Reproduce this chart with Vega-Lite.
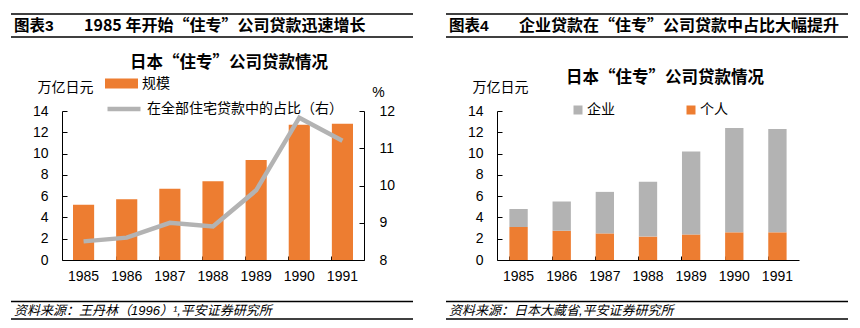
{
  "$schema": "https://vega.github.io/schema/vega-lite/v6.json",
  "background": "white",
  "padding": {"left": 10, "top": 13, "right": 13, "bottom": 10},
  "config": {
    "view": {"stroke": null},
    "font": "Liberation Sans, Noto Sans CJK SC",
    "text": {"font": "Liberation Sans, Noto Sans CJK SC", "color": "black"},
    "mark": {"clip": false},
    "axis": {
      "labelFont": "Liberation Sans",
      "labelFontSize": 14,
      "labelColor": "black",
      "domainColor": "black",
      "tickColor": "black",
      "grid": false,
      "titleFont": "Noto Sans CJK SC",
      "titleFontWeight": "normal",
      "titleFontSize": 14,
      "titleColor": "black"
    },
    "legend": {
      "labelFont": "Noto Sans CJK SC",
      "labelFontSize": 14,
      "labelColor": "black",
      "labelLimit": 0,
      "padding": 0,
      "titlePadding": 0
    }
  },
  "columns": 2,
  "spacing": {"row": 0, "column": 133},
  "bounds": "flush",
  "concat": [
    {
      "width": 302,
      "height": 97,
      "data": {"values": [{"label": "图表3", "title": "1985 年开始“住专”公司贷款迅速增长", "chart": "日本“住专”公司贷款情况"}]},
      "layer": [
        {"mark": {"type": "rule", "strokeWidth": 1.5, "color": "black"},
         "encoding": {"x": {"datum": -51, "type": "quantitative", "scale": {"domain": [0, 302], "nice": false, "zero": false}, "axis": null},
                      "x2": {"datum": 351},
                      "y": {"datum": 0, "type": "quantitative", "scale": {"domain": [0, 97], "reverse": true, "nice": false}, "axis": null}}},
        {"mark": {"type": "rule", "strokeWidth": 1.5, "color": "black"},
         "encoding": {"x": {"datum": -51, "type": "quantitative"}, "x2": {"datum": 351},
                      "y": {"datum": 23, "type": "quantitative"}}},
        {"mark": {"type": "text", "align": "left", "baseline": "middle", "fontSize": 15.5, "fontWeight": "bold"},
         "encoding": {"x": {"datum": -48, "type": "quantitative"},
                      "y": {"datum": 12, "type": "quantitative"},
                      "text": {"field": "label"}}},
        {"mark": {"type": "text", "align": "left", "baseline": "middle", "fontSize": 16, "fontWeight": "bold", "font": "Noto Sans CJK SC"},
         "encoding": {"x": {"datum": 22, "type": "quantitative"},
                      "y": {"datum": 12, "type": "quantitative"},
                      "text": {"field": "title"}}},
        {"mark": {"type": "text", "align": "center", "baseline": "middle", "fontSize": 16.5, "fontWeight": "bold", "font": "Noto Sans CJK SC"},
         "encoding": {"x": {"datum": 167, "type": "quantitative"},
                      "y": {"datum": 49, "type": "quantitative"},
                      "text": {"field": "chart"}}}
      ]
    },
    {
      "width": 302,
      "height": 97,
      "data": {"values": [{"label": "图表4", "title": "企业贷款在“住专”公司贷款中占比大幅提升", "chart": "日本“住专”公司贷款情况"}]},
      "layer": [
        {"mark": {"type": "rule", "strokeWidth": 1.5, "color": "black"},
         "encoding": {"x": {"datum": -51, "type": "quantitative", "scale": {"domain": [0, 302], "nice": false, "zero": false}, "axis": null},
                      "x2": {"datum": 351},
                      "y": {"datum": 0, "type": "quantitative", "scale": {"domain": [0, 97], "reverse": true, "nice": false}, "axis": null}}},
        {"mark": {"type": "rule", "strokeWidth": 1.5, "color": "black"},
         "encoding": {"x": {"datum": -51, "type": "quantitative"}, "x2": {"datum": 351},
                      "y": {"datum": 23, "type": "quantitative"}}},
        {"mark": {"type": "text", "align": "left", "baseline": "middle", "fontSize": 15.5, "fontWeight": "bold"},
         "encoding": {"x": {"datum": -48, "type": "quantitative"},
                      "y": {"datum": 12, "type": "quantitative"},
                      "text": {"field": "label"}}},
        {"mark": {"type": "text", "align": "left", "baseline": "middle", "fontSize": 16, "fontWeight": "bold", "font": "Noto Sans CJK SC"},
         "encoding": {"x": {"datum": 22, "type": "quantitative"},
                      "y": {"datum": 12, "type": "quantitative"},
                      "text": {"field": "title"}}},
        {"mark": {"type": "text", "align": "center", "baseline": "middle", "fontSize": 16.5, "fontWeight": "bold", "font": "Noto Sans CJK SC"},
         "encoding": {"x": {"datum": 168, "type": "quantitative"},
                      "y": {"datum": 64, "type": "quantitative"},
                      "text": {"field": "chart"}}}
      ]
    },
    {
      "width": 302,
      "height": 149,
      "data": {"values": [
        {"year": "1985", "size": 5.2, "share": 8.5},
        {"year": "1986", "size": 5.7, "share": 8.6},
        {"year": "1987", "size": 6.7, "share": 9.0},
        {"year": "1988", "size": 7.4, "share": 8.9},
        {"year": "1989", "size": 9.4, "share": 9.87},
        {"year": "1990", "size": 12.7, "share": 11.82},
        {"year": "1991", "size": 12.8, "share": 11.2}
      ]},
      "encoding": {
        "x": {"field": "year", "type": "ordinal", "scale": {"paddingInner": 0.51, "paddingOuter": 0.255},
              "axis": {"title": null, "labelAngle": 0, "tickSize": -4, "bandPosition": 0, "labelPadding": 13}}
      },
      "layer": [
        {"mark": {"type": "bar"},
         "encoding": {
           "y": {"field": "size", "type": "quantitative", "scale": {"domain": [0, 14], "nice": false},
                 "axis": {"orient": "left", "values": [0, 2, 4, 6, 8, 10, 12, 14], "tickSize": -5, "labelPadding": 19,
                          "title": "万亿日元", "titleAngle": 0, "titleX": 3, "titleY": -24, "titleAlign": "center", "titleBaseline": "middle"}},
           "fill": {"datum": "规模", "type": "nominal", "scale": {"range": ["#ED7D31"]},
                    "legend": {"orient": "none", "legendX": 43, "legendY": 53, "title": null,
                               "symbolType": "M-1,-0.3H1V0.3H-1Z", "symbolSize": 1089, "symbolStrokeWidth": 0, "labelOffset": 4}}
         }},
        {"mark": {"type": "line", "strokeWidth": 4.5},
         "encoding": {
           "y": {"field": "share", "type": "quantitative", "scale": {"domain": [8, 12], "nice": false, "zero": false},
                 "axis": {"orient": "right", "values": [8, 9, 10, 11, 12], "tickSize": -5, "labelPadding": 20,
                          "title": "%", "titleFont": "Liberation Sans", "titleAngle": 0, "titleX": 14, "titleY": -19, "titleAlign": "center", "titleBaseline": "middle"}},
           "stroke": {"datum": "在全部住宅贷款中的占比（右）", "type": "nominal", "scale": {"range": ["#B3B3B3"]},
                      "legend": {"orient": "none", "legendX": 43, "legendY": 76, "title": null,
                                 "symbolType": "stroke", "symbolSize": 1089, "symbolStrokeWidth": 4.5, "labelOffset": 4}}
         }}
      ],
      "resolve": {"scale": {"y": "independent"}}
    },
    {
      "width": 302,
      "height": 149,
      "data": {"values": [
        {"year": "1985", "type": "个人", "value": 3.1},
        {"year": "1985", "type": "企业", "value": 1.7},
        {"year": "1986", "type": "个人", "value": 2.75},
        {"year": "1986", "type": "企业", "value": 2.75},
        {"year": "1987", "type": "个人", "value": 2.5},
        {"year": "1987", "type": "企业", "value": 3.9},
        {"year": "1988", "type": "个人", "value": 2.2},
        {"year": "1988", "type": "企业", "value": 5.15},
        {"year": "1989", "type": "个人", "value": 2.4},
        {"year": "1989", "type": "企业", "value": 7.8},
        {"year": "1990", "type": "个人", "value": 2.6},
        {"year": "1990", "type": "企业", "value": 9.8},
        {"year": "1991", "type": "个人", "value": 2.6},
        {"year": "1991", "type": "企业", "value": 9.7}
      ]},
      "mark": {"type": "bar"},
      "encoding": {
        "x": {"field": "year", "type": "ordinal", "scale": {"paddingInner": 0.575, "paddingOuter": 0.2875},
              "axis": {"title": null, "labelAngle": 0, "tickSize": -4, "bandPosition": 0, "labelPadding": 13}},
        "y": {"field": "value", "type": "quantitative", "stack": "zero", "scale": {"domain": [0, 14], "nice": false},
              "axis": {"orient": "left", "values": [0, 2, 4, 6, 8, 10, 12, 14], "tickSize": -5, "labelPadding": 19,
                       "title": "万亿日元", "titleAngle": 0, "titleX": 3, "titleY": -24, "titleAlign": "center", "titleBaseline": "middle"}},
        "color": {"field": "type", "type": "nominal",
                  "scale": {"domain": ["企业", "个人"], "range": ["#B3B3B3", "#ED7D31"]},
                  "legend": {"orient": "none", "direction": "horizontal", "legendX": 509, "legendY": 89, "title": null,
                             "symbolType": "square", "symbolSize": 81, "symbolStrokeWidth": 0, "columnPadding": 69, "labelOffset": 2}},
        "order": {"field": "type", "sort": "ascending"}
      }
    },
    {
      "width": 302,
      "height": 59,
      "data": {"values": [{"source": "资料来源：王丹林（1996）¹,平安证券研究所"}]},
      "layer": [
        {"mark": {"type": "rule", "strokeWidth": 1.5, "color": "black"},
         "encoding": {"x": {"datum": -51, "type": "quantitative", "scale": {"domain": [0, 302], "nice": false, "zero": false}, "axis": null},
                      "x2": {"datum": 351},
                      "y": {"datum": 41.5, "type": "quantitative", "scale": {"domain": [0, 59], "reverse": true, "nice": false}, "axis": null}}},
        {"mark": {"type": "rule", "strokeWidth": 1.5, "color": "black"},
         "encoding": {"x": {"datum": -51, "type": "quantitative"}, "x2": {"datum": 351},
                      "y": {"datum": 59, "type": "quantitative"}}},
        {"mark": {"type": "text", "align": "left", "baseline": "middle", "fontSize": 13, "fontStyle": "italic"},
         "encoding": {"x": {"datum": -48, "type": "quantitative"},
                      "y": {"datum": 51, "type": "quantitative"},
                      "text": {"field": "source"}}}
      ]
    },
    {
      "width": 302,
      "height": 59,
      "data": {"values": [{"source": "资料来源：日本大藏省,平安证券研究所"}]},
      "layer": [
        {"mark": {"type": "rule", "strokeWidth": 1.5, "color": "black"},
         "encoding": {"x": {"datum": -51, "type": "quantitative", "scale": {"domain": [0, 302], "nice": false, "zero": false}, "axis": null},
                      "x2": {"datum": 351},
                      "y": {"datum": 41.5, "type": "quantitative", "scale": {"domain": [0, 59], "reverse": true, "nice": false}, "axis": null}}},
        {"mark": {"type": "rule", "strokeWidth": 1.5, "color": "black"},
         "encoding": {"x": {"datum": -51, "type": "quantitative"}, "x2": {"datum": 351},
                      "y": {"datum": 59, "type": "quantitative"}}},
        {"mark": {"type": "text", "align": "left", "baseline": "middle", "fontSize": 13, "fontStyle": "italic"},
         "encoding": {"x": {"datum": -48, "type": "quantitative"},
                      "y": {"datum": 51, "type": "quantitative"},
                      "text": {"field": "source"}}}
      ]
    }
  ]
}
